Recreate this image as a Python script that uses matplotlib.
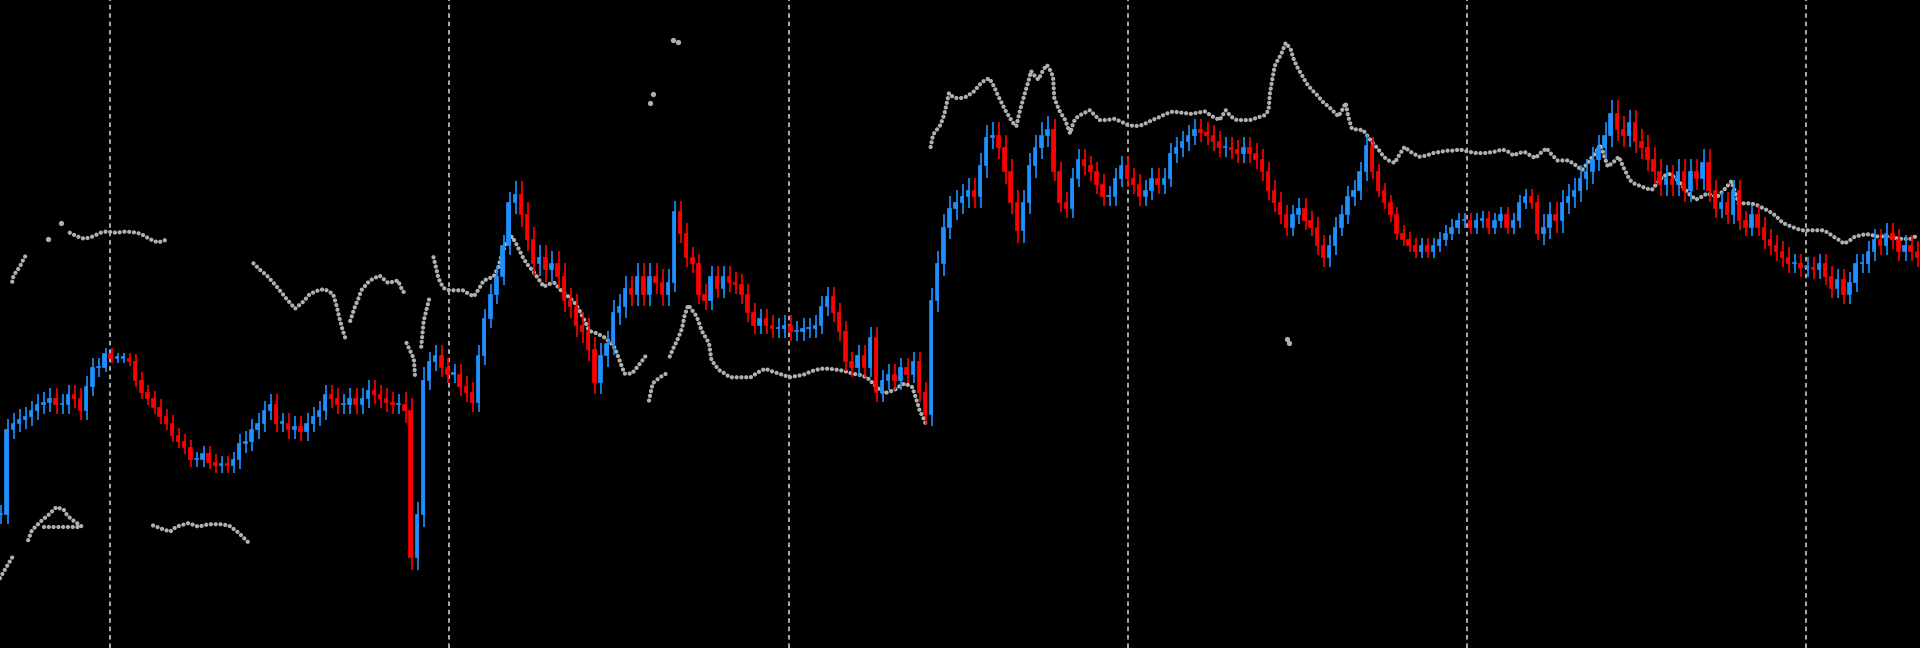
import numpy as np
import matplotlib
matplotlib.use('Agg')
from matplotlib import pyplot as plt

# price levels (0 = top of the price range)
TOP = 529

# closes, one every 5 bars
close_lv = [420, 350, 345, 342, 340, 335, 330, 328, 325, 330, 330, 322, 325, 335, 315, 300, 300, 288, 292, 292,
            292, 295, 310, 320, 325, 332, 340, 345, 355, 360, 365, 375, 375, 370, 377, 380, 378, 380, 375, 362,
            360, 350, 345, 335, 330, 345, 345, 350, 348, 352, 345, 340, 335, 322, 325, 330, 330, 325, 330, 325,
            318, 322, 325, 328, 330, 330, 335, 455, 420, 310, 295, 290, 300, 305, 305, 315, 320, 328, 290, 260,
            240, 225, 200, 165, 158, 175, 195, 215, 210, 220, 215, 225, 245, 250, 265, 270, 285, 312, 290, 280,
            255, 250, 235, 240, 225, 240, 225, 230, 240, 230, 172, 190, 210, 215, 240, 245, 225, 235, 225, 230,
            232, 240, 255, 265, 260, 265, 268, 268, 265, 270, 270, 268, 268, 265, 250, 242, 255, 270, 295, 300,
            290, 300, 275, 320, 310, 305, 310, 300, 305, 295, 320, 338, 245, 215, 185, 170, 165, 160, 155, 160,
            135, 112, 110, 120, 140, 165, 188, 165, 135, 120, 110, 105, 140, 165, 170, 145, 130, 135, 140, 150,
            160, 160, 145, 135, 145, 150, 160, 155, 145, 150, 145, 125, 120, 115, 110, 105, 108, 110, 115, 120,
            120, 122, 125, 120, 125, 130, 140, 155, 165, 175, 185, 175, 170, 180, 185, 200, 210, 200, 185, 175,
            160, 155, 140, 118, 140, 155, 165, 175, 190, 195, 200, 205, 200, 205, 200, 195, 190, 185, 180, 180,
            185, 180, 178, 185, 180, 175, 185, 180, 165, 160, 165, 190, 185, 175, 180, 165, 160, 155, 145, 140,
            130, 120, 110, 92, 105, 110, 100, 115, 120, 130, 140, 150, 145, 150, 140, 155, 140, 145, 132, 155,
            170, 165, 175, 155, 180, 185, 175, 185, 195, 200, 205, 210, 215, 215, 218, 218, 220, 215, 225, 235,
            228, 240, 230, 215, 215, 205, 195, 200, 190, 195, 205, 200, 205, 210]
bar_x = np.arange(len(close_lv)) * 5

# how far the wicks reach past the bodies, by stretch of bars (start bar, reach)
wick_runs = [(0, 8), (85, 4), (110, 6), (195, 8), (330, 10), (350, 8), (420, 10), (550, 8),
             (760, 10), (860, 8), (1120, 6), (1260, 10), (1400, 8)]

# dotted grey indicator, (bar, level) pieces
sar_pieces = [
    [(0, 472), (4, 465), (7, 460), (10, 455)],
    [(23, 441), (26, 433), (30, 429), (34, 425), (40, 420), (46, 414), (52, 416), (55, 421), (60, 425), (67, 430)],
    [(36, 430), (50, 430), (67, 430)],
    [(10, 230), (11, 225), (16, 218), (19, 212), (22, 207)],
    [(57, 190), (63, 193), (69, 195), (76, 193), (82, 190), (87, 189), (95, 190), (103, 189), (112, 190),
     (117, 192), (122, 195), (129, 198), (135, 196)],
    [(125, 429), (133, 432), (139, 434), (144, 430), (154, 427), (162, 430), (170, 428), (180, 428), (187, 429),
     (195, 435), (200, 440), (205, 445)],
    [(207, 215), (212, 220), (218, 225), (226, 234), (234, 244), (241, 252), (248, 246), (253, 240), (260, 237),
     (265, 236), (272, 240), (275, 250), (277, 259), (280, 270), (283, 279)],
    [(286, 262), (290, 250), (293, 243), (295, 237), (302, 229), (310, 225), (317, 231), (325, 229), (329, 238),
     (333, 240)],
    [(332, 280), (338, 293), (339, 308)],
    [(344, 283), (346, 262), (349, 250), (351, 242)],
    [(354, 210), (356, 218), (358, 227), (362, 235), (367, 237), (372, 237), (378, 237), (383, 240), (387, 242),
     (391, 236), (395, 229), (400, 227), (403, 226), (407, 218), (410, 207), (413, 199), (418, 193), (421, 198),
     (424, 204), (427, 210), (430, 215), (435, 221), (440, 228), (444, 234), (448, 232), (453, 231), (458, 237),
     (464, 242), (470, 248), (473, 253), (476, 259), (479, 265), (481, 270), (487, 272), (493, 275), (499, 280),
     (502, 284), (504, 289), (507, 297), (510, 305), (516, 305), (521, 299), (527, 291)],
    [(530, 327), (533, 313), (539, 308), (544, 305)],
    [(547, 291), (550, 284), (553, 278), (557, 268), (559, 258), (562, 249), (565, 253), (568, 257), (570, 261),
     (573, 270), (576, 275), (579, 280), (581, 294), (584, 298), (587, 302), (592, 305), (596, 308), (604, 308),
     (613, 308), (619, 304), (625, 301), (630, 303), (636, 305), (645, 308), (650, 307), (656, 306), (663, 303),
     (670, 301), (677, 301), (685, 302), (690, 303), (696, 305), (702, 306), (708, 308), (712, 312), (716, 316),
     (722, 321), (726, 320), (731, 318), (735, 315), (739, 313), (745, 316), (748, 325), (751, 335), (754, 341),
     (756, 346)],
    [(760, 120), (762, 110), (765, 106), (768, 102), (771, 94), (773, 85), (775, 76), (778, 79), (781, 80),
     (785, 80), (789, 79), (795, 75), (801, 68), (805, 65), (808, 64), (812, 71), (815, 78), (818, 84), (821, 90),
     (824, 95), (827, 100), (830, 103), (833, 90), (835, 83), (837, 76), (840, 66), (842, 58), (845, 62), (848, 65),
     (852, 57), (855, 53), (858, 58), (860, 63), (861, 80), (863, 85), (865, 90), (868, 95), (870, 98), (872, 104),
     (874, 109), (876, 102), (878, 97), (882, 94), (886, 92), (890, 90), (894, 94), (898, 98), (904, 98), (910, 97),
     (915, 99), (921, 102), (927, 103), (933, 102), (937, 100), (941, 98), (946, 96), (952, 93), (958, 91),
     (965, 92), (973, 93), (978, 92), (984, 91), (990, 95), (996, 98), (1001, 90), (1005, 95), (1010, 98),
     (1016, 98), (1021, 98), (1027, 96), (1033, 94), (1036, 90), (1037, 77), (1039, 65), (1041, 54), (1044, 48),
     (1046, 45), (1048, 40), (1050, 35), (1054, 40), (1056, 47), (1059, 54), (1063, 61), (1067, 68), (1071, 73),
     (1076, 78), (1080, 83), (1085, 87), (1089, 91), (1093, 95), (1096, 90), (1099, 84), (1101, 95), (1104, 105),
     (1109, 106), (1113, 106), (1116, 110), (1119, 114), (1122, 118), (1125, 121), (1130, 128), (1134, 131),
     (1139, 133), (1143, 126), (1147, 120), (1152, 124), (1159, 128), (1165, 127), (1170, 125), (1176, 124),
     (1182, 123), (1187, 123), (1192, 122), (1200, 124), (1206, 125), (1212, 125), (1220, 124), (1227, 122),
     (1232, 124), (1236, 127), (1240, 125), (1245, 124), (1250, 127), (1254, 129), (1258, 125), (1263, 121),
     (1267, 126), (1272, 131), (1276, 131), (1281, 131), (1287, 135), (1292, 139), (1295, 135), (1298, 131),
     (1303, 125), (1307, 118), (1310, 127), (1313, 136), (1318, 132), (1322, 128), (1326, 137), (1331, 147),
     (1335, 150), (1340, 152), (1345, 154), (1349, 155), (1353, 150), (1358, 144), (1364, 142), (1370, 147),
     (1374, 152), (1379, 158), (1385, 163), (1389, 161), (1394, 158), (1398, 159), (1402, 161), (1408, 155),
     (1414, 148), (1417, 157), (1420, 166), (1425, 166), (1429, 166), (1434, 167), (1438, 169), (1444, 172),
     (1450, 176), (1453, 179), (1456, 182), (1463, 185), (1471, 188), (1480, 188), (1489, 188), (1493, 190),
     (1497, 193), (1502, 196), (1506, 199), (1511, 196), (1515, 193), (1520, 192), (1524, 191), (1529, 192),
     (1533, 193), (1542, 193), (1551, 195), (1560, 195), (1567, 192)],
]
# lone dots
sar_single = [(39, 195), (50, 182), (531, 84), (533, 77), (550, 33), (554, 34), (1051, 277), (1053, 280)]

# session separators
sessions = [90, 367, 644, 921, 1198, 1475]

close = TOP - np.array(close_lv, dtype=float)
opn = np.r_[close[0], close[:-1]]
up = close >= opn
cols = np.where(up, '#1e90ff', '#ff0000')

starts = [s for s, w in wick_runs] + [bar_x[-1] + 5]
reach = np.zeros(len(bar_x))
for i, (s, w) in enumerate(wick_runs):
    reach[(bar_x >= s) & (bar_x < starts[i + 1])] = w
hi = np.maximum(opn, close) + reach
lo = np.minimum(opn, close) - reach

fig = plt.figure(figsize=(19.2, 6.48), dpi=100, facecolor='black')
ax = fig.add_axes([0, 0, 1, 1])
ax.set_facecolor('black')

for s in sessions:
    ax.axvline(s, color='#d9d9d9', lw=1.1, ls=(0, (3, 2.5)), zorder=1)

for p in sar_pieces:
    xs = [a for a, b in p]
    ys = [TOP - b for a, b in p]
    ax.plot(xs, ys, color='#b0b0b0', lw=3.1, ls=(0, (0.01, 1.1)),
            dash_capstyle='round', zorder=2)
ax.plot([a for a, b in sar_single], [TOP - b for a, b in sar_single], 'o',
        color='#b0b0b0', ms=3.8, mew=0, zorder=2)

# wicks, then bodies
ax.vlines(bar_x + 1.2, lo, hi, colors=cols, lw=1.2, zorder=3)
h = close - opn
h = np.where(np.abs(h) < 1, 1, h)
ax.bar(bar_x, h, bottom=opn, width=2.8, color=cols, edgecolor=cols, linewidth=0.5, zorder=4)

ax.set_xlim(0, 1568)
ax.set_ylim(0, TOP)
ax.axis('off')

fig.savefig('out.png', dpi=100, facecolor='black')
